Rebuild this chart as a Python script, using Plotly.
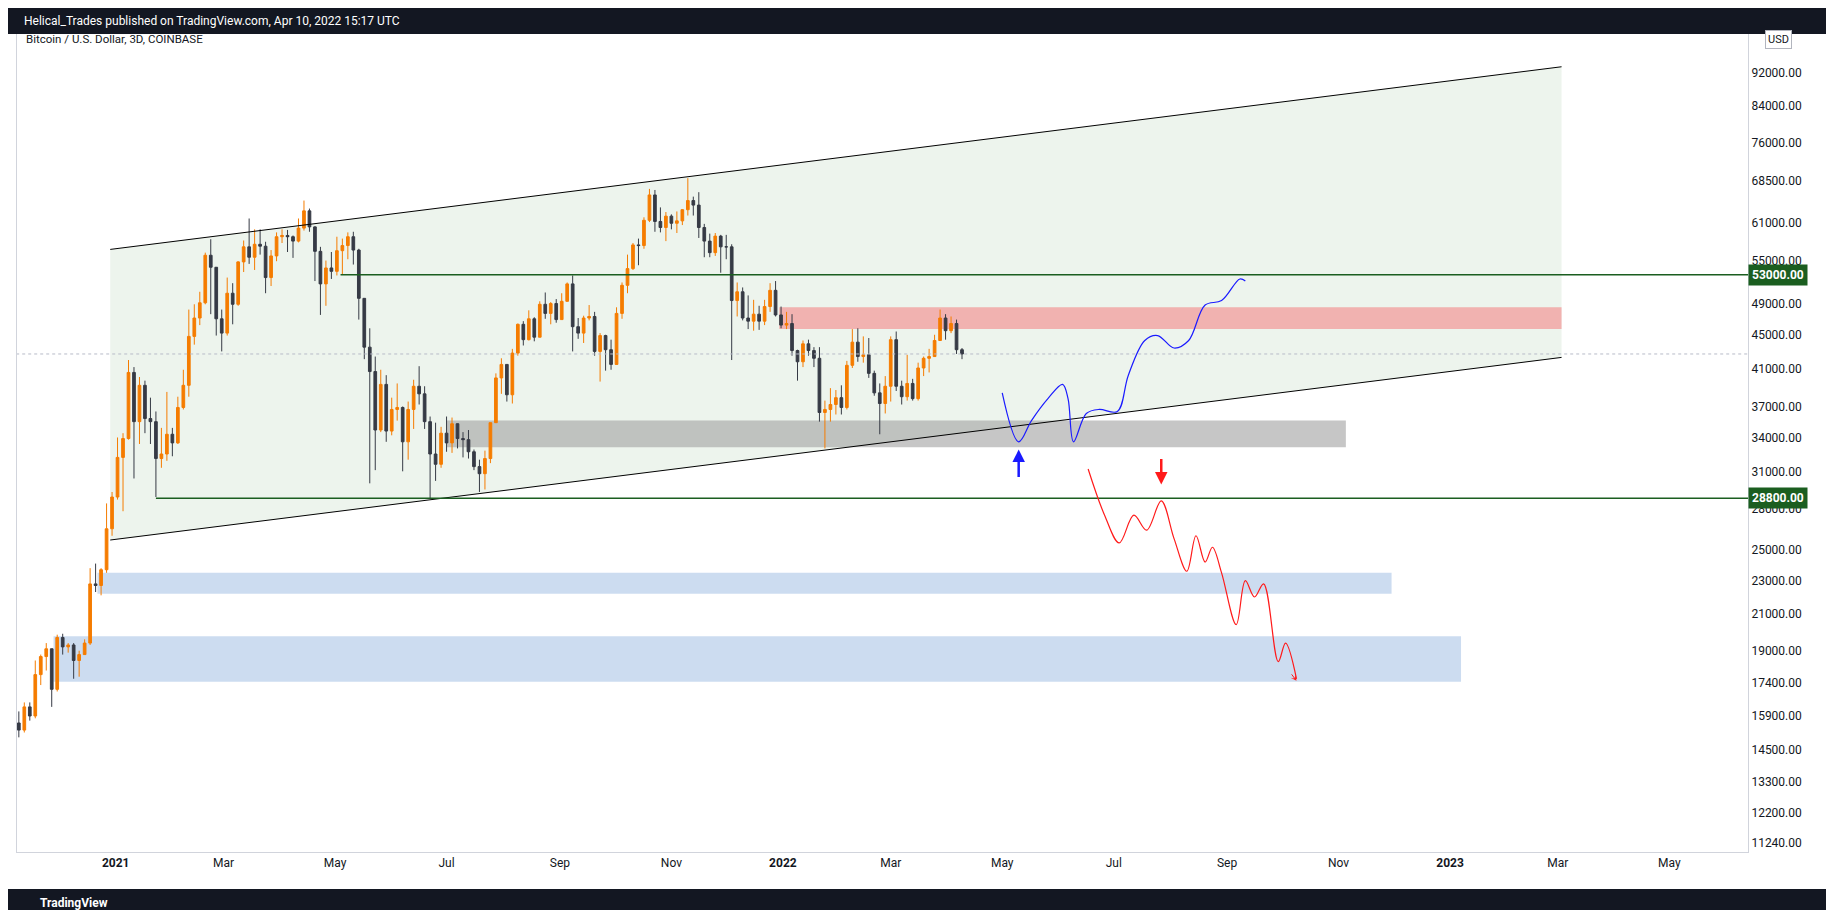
import math

import pandas as pd
import plotly.graph_objects as go

# 3D candles, Coinbase BTC/USD
first_open = 14150
closes = [15600, 15300, 16300, 15900, 17800, 18700, 19100, 17100, 19700,
          19200, 19300, 18500, 18800, 19400, 22800, 22700, 23700, 26500, 28900,
          32200, 33900, 40600, 35500, 39200, 35800, 35500, 32100, 32500, 34300,
          33500, 36900, 39200, 44800, 47100, 49100, 55900, 54100, 47000, 45200,
          50400, 48900, 54900, 57200, 55600, 57600, 57300, 52600, 55800, 58800,
          59000, 58800, 58100, 60200, 63100, 60400, 56500, 51700, 54000, 53500,
          56600, 57400, 58800, 56700, 49700, 43500, 40700, 34700, 39300, 34600,
          36700, 36900, 33600, 36700, 39100, 38300, 35500, 32500, 31600, 34400,
          33500, 35300, 33900, 33800, 32700, 31400, 30800, 32100, 35400, 40000, 41500,
          38200, 42800, 46300, 44400, 47000, 44700, 48900, 47700, 49000, 46900,
          49300, 51700, 46000, 45200, 47100, 47300, 43000, 44900, 43200, 41500,
          47700, 51500, 53900, 57500, 57400, 61500, 65900, 61300, 60300, 62200,
          61000, 61400, 63300, 64900, 64100, 60300, 58100, 56300, 58900, 57200,
          57200, 49400, 50600, 47100, 46700, 47600, 46700, 48600, 50800, 47500, 46200,
          46400, 43100, 41800, 43900, 43100, 42200, 36400, 36700, 37200, 37900,
          36900, 41400, 44100, 42400, 42600, 40500, 38400, 37300, 39100,
          44400, 39100, 38000, 39400, 37800, 41100, 42200, 42400, 44300, 47100, 45500,
          46400, 43200, 42700]
highs = [15900, 16100, 16500, 16500, 18500, 18800, 19400, 19000, 19850,
         19900, 19400, 19400, 19000, 19600, 23800, 24100, 23800, 28400, 29300,
         34000, 34400, 42000, 41200, 40100, 39700, 37900, 36500, 34900, 38500,
         34900, 38000, 40900, 48200, 48900, 50600, 56300, 58400, 52000, 48200,
         52600, 51800, 55000, 58200, 61800, 60000, 60000, 58000, 56700, 59500,
         60000, 59900, 59000, 61800, 64900, 63500, 60500, 57200, 55100, 56400,
         58800, 58500, 59500, 59600, 56900, 49700, 45800, 42400, 40900, 40300,
         37900, 39400, 37000, 37500, 39800, 41300, 39100, 36000, 35400, 35000,
         36000, 35900, 35200, 34500, 34700, 32900, 32000, 32800, 35400, 40500, 42200,
         41500, 43300, 46400, 46700, 48100, 47200, 49300, 50500, 49200, 49600,
         50400, 51900, 52900, 47100, 47400, 48800, 47900, 45200, 45000, 44400,
         48500, 51900, 56000, 57800, 58500, 62000, 67000, 66800, 63700, 62900,
         62500, 63000, 63400, 69000, 65600, 66400, 60900, 59300, 59400, 59100,
         59100, 57600, 51900, 51200, 50100, 49500, 48700, 49500, 51800, 52100, 48600,
         47900, 47600, 43200, 44300, 44400, 43500, 43500, 37600, 38900, 38700,
         39200, 41900, 45700, 45800, 44800, 44600, 40800, 39400, 40200,
         44800, 45400, 39700, 42600, 39900, 41700, 42400, 43300, 45000, 48200, 47600,
         47300, 46900, 43400]
lows = [14100, 15000, 15200, 15700, 15800, 17300, 18000, 16300, 17000,
        18800, 18900, 17600, 17700, 18900, 19300, 22300, 22100, 23500, 26000,
        28700, 27800, 33800, 30400, 33400, 34400, 33400, 28900, 31300, 31900,
        32300, 33400, 36700, 38000, 43800, 46200, 48900, 47600, 44900, 43000,
        44900, 46300, 48700, 53400, 54600, 53700, 56000, 50400, 51400, 55000,
        57800, 56400, 55500, 57900, 59800, 59600, 52100, 47500, 48700, 52400,
        52900, 53000, 55300, 54500, 46900, 42100, 30000, 31100, 34500, 33600,
        34200, 35600, 31000, 32000, 34800, 37200, 34800, 28800, 30200, 31300,
        32700, 32600, 33000, 32200, 32100, 31100, 29300, 29500, 31700, 35600, 38300,
        37500, 37300, 42500, 43700, 44300, 44200, 45000, 47000, 46300, 46500,
        46900, 49400, 43000, 44500, 44000, 46800, 42500, 39600, 40800, 40900,
        41500, 47000, 50400, 53700, 54400, 56900, 61200, 59600, 59500, 58100,
        60000, 59400, 60700, 62300, 62300, 58600, 55600, 55600, 55800, 53300,
        55300, 42000, 47300, 46800, 45700, 45500, 45600, 46200, 47900, 47300, 45800,
        45700, 42500, 39700, 41200, 42500, 41200, 35500, 33000, 35500, 36200,
        36200, 36700, 41100, 41800, 41700, 40000, 38100, 34300, 36300,
        37500, 38600, 37200, 37600, 37600, 37600, 40200, 40600, 42500, 44300, 44400,
        45200, 42700, 42100]
opens = [first_open] + closes[:-1]
dates = pd.date_range("2020-11-06", periods=len(closes), freq="3D")

# drawings
channel_dates = ["2020-12-29", "2023-03-03"]
channel_upper = [56800, 93500]
channel_lower = [25700, 42300]
level_high, level_high_start = 53000, "2021-05-04"
level_low, level_low_start = 28800, "2021-01-23"
last_price = 42700
boxes = [  # start, end, bottom, top, colour
    ("2021-12-30", "2023-03-03", 45700, 48500, "rgba(242,150,150,0.7)"),
    ("2021-07-01", "2022-11-05", 33100, 35600, "rgba(160,160,160,0.6)"),
    ("2020-12-22", "2022-11-30", 22200, 23500, "rgba(170,196,230,0.6)"),
    ("2020-11-28", "2023-01-07", 17460, 19770, "rgba(170,196,230,0.6)"),
]
bull_dates = ["2022-05-01", "2022-05-10", "2022-05-17", "2022-05-26", "2022-06-03",
              "2022-06-06", "2022-06-09", "2022-06-16", "2022-06-23", "2022-07-03",
              "2022-07-09", "2022-07-18", "2022-07-25", "2022-08-03", "2022-08-11",
              "2022-08-20", "2022-08-29", "2022-09-08", "2022-09-11"]
bull_prices = [38400, 33600, 35600, 37800, 39300, 37800, 33600, 36300, 36700, 36500,
               40300, 44300, 44900, 43400, 44300, 48800, 49400, 52400, 52100]
bear_dates = ["2022-06-17", "2022-06-26", "2022-07-04", "2022-07-12", "2022-07-19",
              "2022-07-27", "2022-08-03", "2022-08-10", "2022-08-15", "2022-08-20",
              "2022-08-24", "2022-08-29", "2022-09-06", "2022-09-11", "2022-09-16",
              "2022-09-21", "2022-09-29", "2022-10-03", "2022-10-09"]
bear_prices = [31200, 27500, 25500, 27500, 26400, 28600, 25800, 23600, 26000, 24200,
               25200, 23500, 20400, 23000, 22000, 22800, 18440, 19400, 17600]

price_ticks = [11240, 12200, 13300, 14500, 15900, 17400, 19000, 21000, 23000, 25000,
               28000, 31000, 34000, 37000, 41000, 45000, 49000, 55000, 61000, 68500,
               76000, 84000, 92000, 104000]
month_ticks = ["2021-01-01", "2021-03-01", "2021-05-01", "2021-07-01", "2021-09-01",
               "2021-11-01", "2022-01-01", "2022-03-01", "2022-05-01", "2022-07-01",
               "2022-09-01", "2022-11-01", "2023-01-01", "2023-03-01", "2023-05-01"]
month_labels = ["<b>2021</b>", "Mar", "May", "Jul", "Sep", "Nov", "<b>2022</b>", "Mar",
                "May", "Jul", "Sep", "Nov", "<b>2023</b>", "Mar", "May"]

X_START, X_END = "2020-11-08", "2023-06-13"
W, H = 1834, 910
M = dict(l=9, r=94, t=18, b=66)
PH = H - M["t"] - M["b"]
HEAD, FOOT = 26, 29

fig = go.Figure()

shapes = [
    dict(type="path", xref="x", yref="y", layer="below", line_width=0,
         fillcolor="rgba(225,236,225,0.6)",
         path="M %s,%s L %s,%s L %s,%s L %s,%s Z" % (
             channel_dates[0], channel_upper[0], channel_dates[1], channel_upper[1],
             channel_dates[1], channel_lower[1], channel_dates[0], channel_lower[0])),
]
for d0, d1, lo, hi, col in boxes:
    shapes.append(dict(type="rect", xref="x", yref="y", x0=d0, x1=d1, y0=lo, y1=hi,
                       fillcolor=col, line_width=0, layer="below"))
shapes += [
    dict(type="rect", xref="paper", yref="paper", x0=-0.01, x1=1.1,
         y0=1 + (M["t"] - HEAD) / PH, y1=1 + M["t"] / PH,
         fillcolor="#131722", line_width=0, layer="above"),
    dict(type="rect", xref="paper", yref="paper", x0=-0.01, x1=1.1,
         y0=-M["b"] / PH, y1=-(M["b"] - FOOT) / PH,
         fillcolor="#131722", line_width=0, layer="above"),
]

for y in (channel_upper, channel_lower):
    fig.add_trace(go.Scatter(x=channel_dates, y=y, mode="lines",
                             line=dict(color="#000000", width=1), hoverinfo="skip"))
fig.add_trace(go.Scatter(x=[level_high_start, X_END], y=[level_high] * 2, mode="lines",
                         line=dict(color="#1b5e20", width=1.5), hoverinfo="skip"))
fig.add_trace(go.Scatter(x=[level_low_start, X_END], y=[level_low] * 2, mode="lines",
                         line=dict(color="#1b5e20", width=1.5), hoverinfo="skip"))
fig.add_trace(go.Scatter(x=["2020-11-01", X_END], y=[last_price] * 2, mode="lines",
                         line=dict(color="#b8bcc8", width=1, dash="dot"), hoverinfo="skip"))

fig.add_trace(go.Candlestick(
    x=dates, open=opens, high=highs, low=lows, close=closes,
    increasing=dict(line=dict(color="#f57c00", width=1), fillcolor="#f57c00"),
    decreasing=dict(line=dict(color="#363a45", width=1), fillcolor="#363a45"),
    whiskerwidth=0, hoverinfo="skip"))

fig.add_trace(go.Scatter(x=bull_dates, y=bull_prices, mode="lines", line_shape="spline",
                         line=dict(color="#1a1aff", width=1.2), hoverinfo="skip"))
fig.add_trace(go.Scatter(x=bear_dates, y=bear_prices, mode="lines", line_shape="spline",
                         line=dict(color="#ff1a1a", width=1.2), hoverinfo="skip"))

L = math.log10
ann = [
    dict(x="2022-05-10", y=L(32900), ax="2022-05-10", ay=L(30400), xref="x", yref="y",
         axref="x", ayref="y", text="", showarrow=True, arrowhead=2, arrowsize=1,
         arrowwidth=2.5, arrowcolor="#1a1aff"),
    dict(x="2022-07-27", y=L(29900), ax="2022-07-27", ay=L(32200), xref="x", yref="y",
         axref="x", ayref="y", text="", showarrow=True, arrowhead=2, arrowsize=1,
         arrowwidth=2.5, arrowcolor="#ff1a1a"),
    dict(x="2022-10-09", y=L(17500), ax=-6, ay=-8, xref="x", yref="y", text="",
         showarrow=True, arrowhead=3, arrowwidth=1, arrowcolor="#ff1a1a"),
    dict(x=0.004, y=1 - 4 / PH, xref="paper", yref="paper", xanchor="left", yanchor="top",
         text="Bitcoin / U.S. Dollar, 3D, COINBASE", showarrow=False,
         font=dict(size=11.5, color="#131722")),
    dict(x=0.003, y=1 + (M["t"] - HEAD / 2) / PH, xref="paper", yref="paper",
         xanchor="left", yanchor="middle",
         text="Helical_Trades published on TradingView.com, Apr 10, 2022 15:17 UTC",
         showarrow=False, font=dict(size=12, color="#ffffff")),
    dict(x=0.012, y=-(M["b"] - FOOT / 2) / PH, xref="paper", yref="paper", xanchor="left",
         yanchor="middle", text="<b>TradingView</b>", showarrow=False,
         font=dict(size=12, color="#ffffff")),
    dict(x=1.01, y=1 - 14 / PH, xref="paper", yref="paper", xanchor="left", yanchor="middle",
         text="USD", showarrow=False, bordercolor="#b2b5be", borderwidth=1, borderpad=2,
         bgcolor="#ffffff", font=dict(size=11, color="#131722")),
]
for lvl in (level_high, level_low):
    ann.append(dict(x=1.0, y=L(lvl), xref="paper", yref="y", xanchor="left",
                    text="<b>%.2f</b>" % lvl, showarrow=False, bgcolor="#1b5e20",
                    borderpad=3, font=dict(size=12, color="#ffffff")))

fig.update_layout(
    width=W, height=H, margin=M, showlegend=False, paper_bgcolor="#ffffff",
    plot_bgcolor="#ffffff", font=dict(family="Roboto, Arial", size=12, color="#131722"),
    annotations=ann, shapes=shapes,
    xaxis=dict(type="date", range=[X_START, X_END], rangeslider_visible=False,
               tickvals=month_ticks, ticktext=month_labels, showgrid=False,
               showline=True, linecolor="#d1d4dc", mirror=True, ticks="", zeroline=False),
    yaxis=dict(type="log", side="right", range=[L(10970), L(104500)], tickvals=price_ticks,
               ticktext=["%.2f" % v for v in price_ticks], showgrid=False, showline=True,
               linecolor="#d1d4dc", mirror=True, ticks="", zeroline=False),
)

fig.write_html("out.html")
